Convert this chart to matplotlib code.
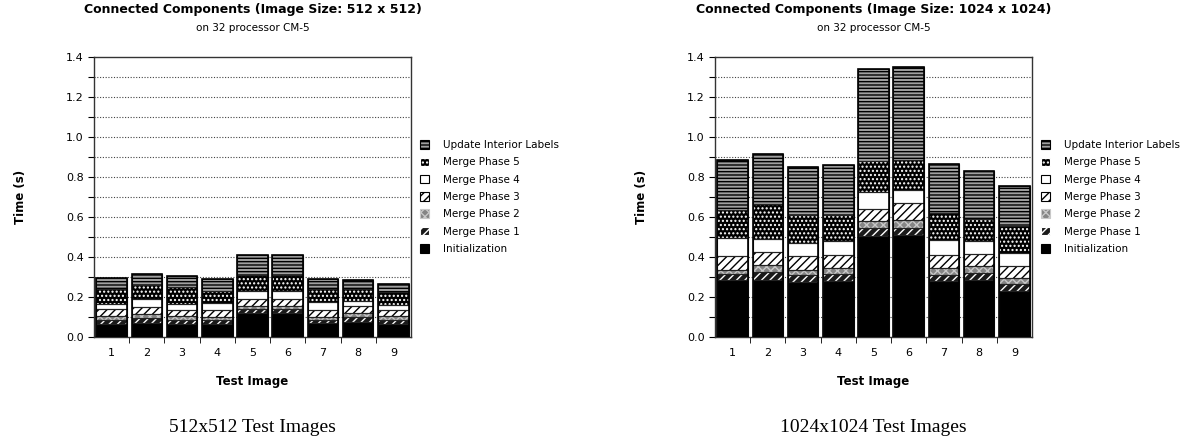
import matplotlib
matplotlib.use("Agg")
import matplotlib.pyplot as plt
from matplotlib.patches import Patch
import numpy as np

plt.rcParams['font.family'] = ['DejaVu Sans']
plt.rcParams['hatch.linewidth'] = 1.0

test_images = [1, 2, 3, 4, 5, 6, 7, 8, 9]
series_names = ["Initialization", "Merge Phase 1", "Merge Phase 2", "Merge Phase 3",
                "Merge Phase 4", "Merge Phase 5", "Update Interior Labels"]

# 512 x 512
left_init = [0.065, 0.070, 0.063, 0.067, 0.120, 0.118, 0.070, 0.075, 0.065]
left_m1 = [0.022, 0.027, 0.022, 0.018, 0.018, 0.020, 0.016, 0.025, 0.022]
left_m2 = [0.018, 0.020, 0.020, 0.015, 0.017, 0.017, 0.014, 0.020, 0.018]
left_m3 = [0.033, 0.035, 0.030, 0.037, 0.037, 0.037, 0.033, 0.035, 0.030]
left_m4 = [0.025, 0.038, 0.028, 0.033, 0.038, 0.038, 0.042, 0.025, 0.025]
left_m5 = [0.075, 0.068, 0.087, 0.060, 0.078, 0.078, 0.067, 0.060, 0.065]
left_upd = [0.055, 0.055, 0.055, 0.062, 0.104, 0.104, 0.050, 0.045, 0.040]

# 1024 x 1024
right_init = [0.283, 0.287, 0.275, 0.280, 0.503, 0.508, 0.280, 0.287, 0.230]
right_m1 = [0.030, 0.038, 0.033, 0.037, 0.044, 0.039, 0.032, 0.033, 0.035]
right_m2 = [0.024, 0.033, 0.029, 0.028, 0.033, 0.040, 0.035, 0.033, 0.030]
right_m3 = [0.066, 0.067, 0.066, 0.067, 0.062, 0.083, 0.065, 0.064, 0.060]
right_m4 = [0.090, 0.067, 0.067, 0.066, 0.083, 0.063, 0.071, 0.061, 0.065]
right_m5 = [0.140, 0.175, 0.138, 0.130, 0.153, 0.150, 0.137, 0.110, 0.135]
right_upd = [0.250, 0.250, 0.242, 0.252, 0.460, 0.467, 0.247, 0.242, 0.200]

left_series = [left_init, left_m1, left_m2, left_m3, left_m4, left_m5, left_upd]
right_series = [right_init, right_m1, right_m2, right_m3, right_m4, right_m5, right_upd]

# (facecolor, hatch, hatchcolor)
styles = [
    ("black", None, "black"),
    ("#1a1a1a", "////", "white"),
    ("#858585", "xxxx", "#c8c8c8"),
    ("white", "////", "black"),
    ("white", None, "black"),
    ("black", "....", "white"),
    ("#a0a0a0", "-----", "black"),
]

fig = plt.figure(figsize=(11.99, 4.45), dpi=100)
W, H = 1199, 445

def make_panel(left_px, series, title, caption):
    ax = fig.add_axes([left_px / W, (H - 337) / H, 317 / W, 280 / H])
    x = np.array(test_images, dtype=float)
    bw = 0.87
    bottom = np.zeros(len(x))
    for vals, (fc, hatch, hc) in zip(series, styles):
        vals = np.array(vals)
        ax.bar(x, vals, width=bw, bottom=bottom, color=fc, hatch=hatch,
               edgecolor=hc, linewidth=0, zorder=3)
        ax.bar(x, vals, width=bw, bottom=bottom, facecolor="none",
               edgecolor="#222222", linewidth=0.8, zorder=4)
        bottom += vals
    ax.bar(x, bottom, width=bw, facecolor="none", edgecolor="black",
           linewidth=1.2, zorder=5)
    ax.set_xlim(0.5, 9.5)
    ax.set_ylim(0, 1.4)
    ax.set_yticks(np.arange(0, 1.41, 0.2))
    ax.set_yticklabels([f"{v:.1f}" for v in np.arange(0, 1.41, 0.2)], fontsize=8)
    ax.set_yticks(np.arange(0.1, 1.4, 0.2), minor=True)
    ax.set_xticks(test_images)
    ax.set_xticklabels([str(t) for t in test_images], fontsize=8)
    ax.set_xticks(np.arange(1.5, 9.5, 1.0), minor=True)
    ax.tick_params(axis='x', which='major', length=0, pad=8)
    ax.tick_params(axis='x', which='minor', length=4, direction='out')
    ax.tick_params(axis='y', which='both', length=4, direction='out', width=0.8)
    for yv in np.arange(0.1, 1.35, 0.1):
        ax.axhline(yv, color="#444444", linestyle=(0, (1, 1.5)), linewidth=0.8, zorder=1)
    for s in ax.spines.values():
        s.set_linewidth(1.0)
        s.set_color("#333333")
    ax.set_xlabel("Test Image", fontsize=8.5, fontweight="bold", labelpad=12)
    ax.set_ylabel("Time (s)", fontsize=8.5, fontweight="bold")
    ax.yaxis.set_label_coords(-0.21, 0.5)
    cx = (left_px + 317 / 2) / W
    fig.text(cx, 1 - 10 / H, title, ha="center", va="center", fontsize=9, fontweight="bold")
    fig.text(cx, 1 - 28 / H, "on 32 processor CM-5", ha="center", va="center", fontsize=7.5)
    fig.text(cx, 1 - 428 / H, caption, ha="center", va="center", fontsize=14,
             family=["Liberation Serif", "DejaVu Serif"])
    handles = [Patch(facecolor=fc, hatch=h, edgecolor=hc, label=n)
               for n, (fc, h, hc) in zip(series_names, styles)]
    handles = handles[::-1]
    leg = ax.legend(handles=handles, loc="center left", bbox_to_anchor=(1.015, 0.5),
                    frameon=False, fontsize=7.5, handlelength=0.9, handleheight=0.9,
                    handletextpad=1.3, labelspacing=0.7, borderaxespad=0)
    for p in leg.get_patches():
        p.set_linewidth(0.8)
    return ax

make_panel(94, left_series, "Connected Components (Image Size: 512 x 512)", "512x512 Test Images")
make_panel(715, right_series, "Connected Components (Image Size: 1024 x 1024)", "1024x1024 Test Images")

fig.savefig("out.png", dpi=100)
